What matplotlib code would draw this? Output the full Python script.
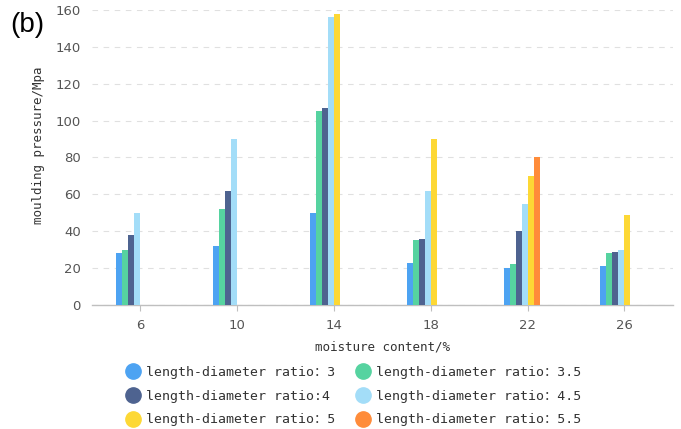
import numpy as np
import matplotlib
matplotlib.use('Agg')
import matplotlib.pyplot as plt
from matplotlib.lines import Line2D

# --- data ---
moisture = ['6', '10', '14', '18', '22', '26']
series_labels = [
    'length-diameter ratio：3',
    'length-diameter ratio：3.5',
    'length-diameter ratio:4',
    'length-diameter ratio：4.5',
    'length-diameter ratio：5',
    'length-diameter ratio：5.5',
]
ratio_3 = [28, 32, 50, 23, 20, 21]
ratio_3_5 = [30, 52, 105, 35, 22, 28]
ratio_4 = [38, 62, 107, 36, 40, 29]
ratio_4_5 = [50, 90, 156, 62, 55, 30]
ratio_5 = [np.nan, np.nan, 158, 90, 70, 49]
ratio_5_5 = [np.nan, np.nan, np.nan, np.nan, 80, np.nan]
yticks = [0, 20, 40, 60, 80, 100, 120, 140, 160]

colors = ['#4DA3F2', '#56D3A0', '#4E6390', '#A3DDF8', '#FDD835', '#FF8C3A']
all_series = [ratio_3, ratio_3_5, ratio_4, ratio_4_5, ratio_5, ratio_5_5]

mono = ['DejaVu Sans Mono', 'Noto Sans CJK SC']

fig = plt.figure(figsize=(6.81, 4.29), dpi=100)
ax = fig.add_axes([0.135, 0.289, 0.853, 0.688])

x = np.arange(len(moisture))
w = 0.062
for i, (vals, c) in enumerate(zip(all_series, colors)):
    ax.bar(x + (i - 3.5) * w, vals, width=w, color=c, linewidth=0, zorder=3)

ax.set_xlim(-0.5, len(moisture) - 0.5)
ax.set_ylim(0, 160)
ax.set_yticks(yticks)
ax.set_xticks(x)
ax.set_xticklabels(moisture)
ax.grid(axis='y', linestyle=(0, (5, 5)), color='#E0E0E0', linewidth=0.8, zorder=0)

for s in ['top', 'right', 'left']:
    ax.spines[s].set_visible(False)
ax.spines['bottom'].set_color('#BFBFBF')
ax.spines['bottom'].set_linewidth(1.0)
ax.tick_params(axis='y', length=0, pad=8, labelsize=9.5, labelcolor='#555555')
ax.tick_params(axis='x', length=4, color='#BFBFBF', pad=6, labelsize=9.5, labelcolor='#555555')

ax.set_xlabel('moisture content/%', fontfamily=mono, fontsize=9, color='#333333', labelpad=6)
ax.set_ylabel('moulding pressure/Mpa', fontfamily=mono, fontsize=9, color='#333333')
ax.yaxis.set_label_coords(-0.08, 0.54)

# legend fills column-wise, so order items to read row by row like the reference
order = [0, 2, 4, 1, 3, 5]
handles = [Line2D([], [], marker='o', linestyle='', markersize=11, color=colors[k]) for k in order]
labels = [series_labels[k] for k in order]
fig.legend(handles, labels, loc='upper left', bbox_to_anchor=(0.175, 0.162),
           ncol=2, frameon=False, prop={'family': mono, 'size': 9.5},
           handletextpad=0.45, columnspacing=1.5, labelspacing=0.8, borderpad=0,
           handlelength=1.1, labelcolor='#333333')

fig.text(0.015, 0.925, '(b)', fontsize=20, fontfamily='Liberation Sans', color='black')

fig.savefig('out.png', dpi=100)
